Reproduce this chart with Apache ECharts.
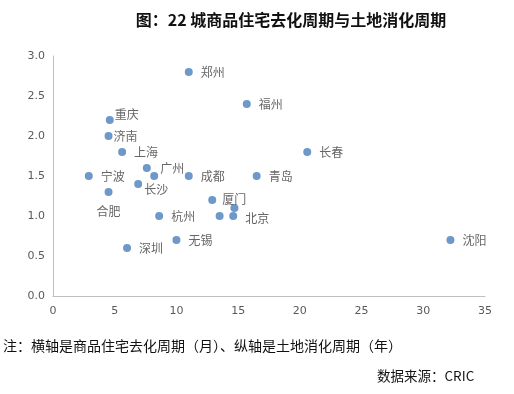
<!DOCTYPE html>
<html><head><meta charset="utf-8">
<script src="https://cdn.jsdelivr.net/npm/echarts@6/dist/echarts.min.js"></script>
<style>html,body{margin:0;padding:0;background:#fff}#c{width:514px;height:394px}</style>
</head><body><div id="c"></div>
<script>
var cityNames = ['郑州','福州','重庆','济南','上海','长春','广州','','宁波','成都','青岛','长沙','合肥','厦门','','杭州','','北京','无锡','深圳','沈阳'];
var xValues = [11.0,15.7,4.6,4.5,5.6,20.6,8.2,7.6,2.9,11.0,16.5,6.9,4.5,12.9,14.7,8.6,13.5,14.6,10.0,6.0,32.2];
var yValues = [2.8,2.4,2.2,2.0,1.8,1.8,1.5,1.6,1.5,1.5,1.5,1.4,1.3,1.2,1.1,1.0,1.0,1.0,0.7,0.6,0.7];
var xTicks = [0,5,10,15,20,25,30,35];
var yTicks = ['0.0','0.5','1.0','1.5','2.0','2.5','3.0'];

var labelStyle = {
  '重庆': {position: 'right', offset: [0, -6], distance: 1},
  '济南': {position: 'right', distance: 1},
  '广州': {position: 'right', offset: [0, -8], distance: 2},
  '长沙': {position: 'right', offset: [0, 5], distance: 2},
  '合肥': {position: 'bottom', offset: [0, 3], distance: 6},
  '厦门': {position: 'right', offset: [0, -1], distance: 6},
  '北京': {position: 'right', offset: [0, 2], distance: 8}
};

var data = xValues.map(function (x, i) {
  var n = cityNames[i];
  var lab = Object.assign({show: !!n, position: 'right', distance: 8}, labelStyle[n] || {});
  return {name: n, value: [x, yValues[i]], label: lab};
});

var chart = echarts.init(document.getElementById('c'), null, {renderer: 'canvas'});
chart.setOption({
  animation: false,
  title: {
    text: '图：22 城商品住宅去化周期与土地消化周期',
    left: 286, top: 7, textAlign: 'center',
    textStyle: {fontSize: 16, fontWeight: 'bold', color: '#111', fontFamily: 'Noto Sans CJK SC'}
  },
  graphic: [
    {type: 'text', left: 3, top: 339, style: {text: '注：横轴是商品住宅去化周期（月）、纵轴是土地消化周期（年）', fill: '#111', font: '14px "Noto Sans CJK SC"'}},
    {type: 'text', left: 377, top: 369, style: {text: '数据来源：CRIC', fill: '#111', font: '13.5px "Noto Sans CJK SC"'}}
  ],
  grid: {left: 53, right: 29, top: 56, bottom: 98},
  xAxis: {
    type: 'value', min: xTicks[0], max: xTicks[xTicks.length - 1], interval: 5,
    splitLine: {show: false},
    axisLine: {show: true, lineStyle: {color: '#bfbfbf', width: 1}},
    axisTick: {show: false},
    axisLabel: {color: '#595959', fontSize: 11, margin: 10, fontFamily: 'DejaVu Sans',
      formatter: function (v) { return String(v); }}
  },
  yAxis: {
    type: 'value', min: 0, max: 3, interval: 0.5,
    splitLine: {show: false},
    axisLine: {show: true, lineStyle: {color: '#bfbfbf', width: 1}},
    axisTick: {show: false},
    axisLabel: {color: '#595959', fontSize: 11, margin: 8, fontFamily: 'DejaVu Sans',
      formatter: function (v) { return yTicks[Math.round(v * 2)]; }}
  },
  series: [{
    type: 'scatter',
    symbolSize: 8,
    itemStyle: {color: '#4a7ebb'},
    label: {formatter: '{b}', color: '#404040', fontSize: 12, fontFamily: 'Noto Sans CJK SC'},
    data: data
  }]
});
</script></body></html>
